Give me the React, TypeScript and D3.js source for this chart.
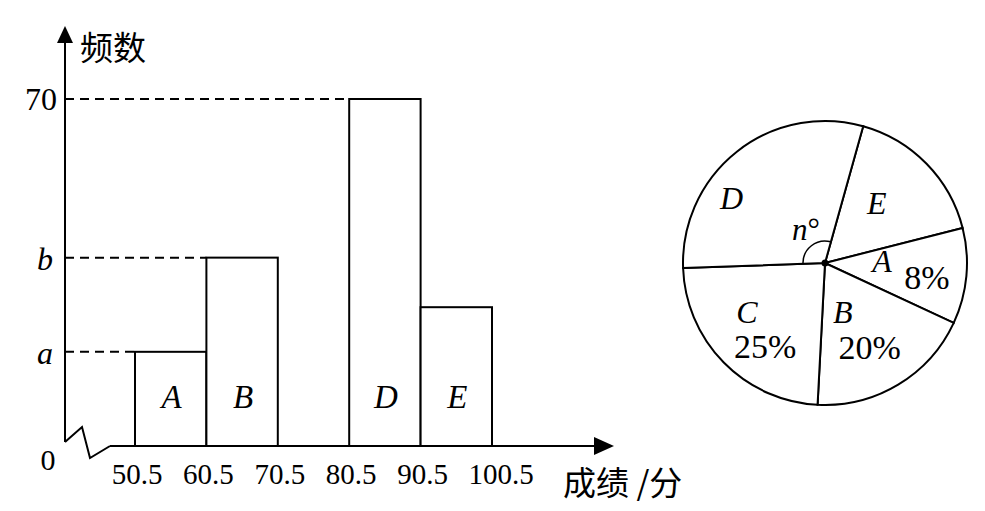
import { useMemo } from "react";
import * as d3 from "d3";

// histogram data (bars are drawn as in the picture, not to scale)
const binStarts = [50.5, 60.5, 70.5, 80.5, 90.5];
const binWidth = 10;
const groups = ["A", "B", "C", "D", "E"];
const freqs = [19, 38, 0, 70, 28];
const xTicks = [50.5, 60.5, 70.5, 80.5, 90.5, 100.5];
const yTickValues = [19, 38, 70];
const yTickLabels = ["a", "b", "70"];

// pie, clockwise from the D/E border
const pieGroups = ["E", "A", "B", "C", "D"];
const pieShares = [16.7, 10.9, 18.9, 23.6, 29.9];
const piePercents = ["", "8%", "20%", "25%", ""];
const pieStartDeg = 15.6;

const serif = "'Liberation Serif', 'Times New Roman', serif";
const cjk = "'Noto Sans CJK SC', sans-serif";

export default function App() {
  const W = 985;
  const H = 511;

  const x = d3.scaleLinear().domain([50.5, 100.5]).range([135, 492]);
  const y = d3.scaleLinear().domain([0, 70]).range([446, 99]);
  const axisX = 65;
  const x0 = y(0);

  // pie geometry
  const cx = 825;
  const cy = 263;
  const R = 142;
  const rad = (deg: number) => (deg * Math.PI) / 180;
  const slices = useMemo(
    () =>
      d3
        .pie<number>()
        .sort(null)
        .startAngle(rad(pieStartDeg))
        .endAngle(rad(pieStartDeg + 360))(pieShares),
    []
  );
  const arc = d3.arc<any>().innerRadius(0).outerRadius(R);

  // polar label spots (angle from 12 o'clock, clockwise; radius)
  const letterSpot: Record<string, [number, number]> = {
    E: [41, 79],
    A: [88, 57],
    B: [160, 52],
    C: [238, 92],
    D: [305, 114],
  };
  const pctSpot: Record<string, [number, number]> = {
    A: [98, 103],
    B: [152, 95],
    C: [216, 102],
  };
  const polar = (deg: number, r: number): [number, number] => [
    cx + r * Math.sin(rad(deg)),
    cy - r * Math.cos(rad(deg)),
  ];

  // n° angle mark between the D/C border and the D/E border
  const dSlice = slices[4];
  const angleMark = d3.path();
  angleMark.arc(cx, cy, 22, dSlice.startAngle - Math.PI / 2, dSlice.endAngle - Math.PI / 2, false);

  const dash = "9,6";

  return (
    <svg
      width={W}
      height={H}
      style={{ position: "absolute", left: 0, top: 0, background: "#fff" }}
    >
      {/* dashed guide lines */}
      {yTickValues.map((v, i) => {
        const idx = freqs.indexOf(v);
        return (
          <line
            key={"g" + i}
            x1={axisX}
            x2={x(binStarts[idx])}
            y1={y(v)}
            y2={y(v)}
            stroke="#000"
            strokeWidth={2}
            strokeDasharray={dash}
          />
        );
      })}

      {/* bars */}
      {freqs.map((f, i) =>
        f > 0 ? (
          <rect
            key={"b" + i}
            x={x(binStarts[i])}
            y={y(f)}
            width={x(binStarts[i] + binWidth) - x(binStarts[i])}
            height={x0 - y(f)}
            fill="#fff"
            stroke="#000"
            strokeWidth={2}
          />
        ) : null
      )}
      {freqs.map((f, i) =>
        f > 0 ? (
          <text
            key={"bl" + i}
            x={x(binStarts[i] + binWidth / 2) + 1}
            y={408}
            textAnchor="middle"
            fontFamily={serif}
            fontStyle="italic"
            fontSize={33}
          >
            {groups[i]}
          </text>
        ) : null
      )}

      {/* y axis */}
      <line x1={axisX} x2={axisX} y1={x0 - 4} y2={40} stroke="#000" strokeWidth={2} />
      <path d={`M${axisX},26 L${axisX - 8},43 L${axisX + 8},43 Z`} fill="#000" />
      {/* break mark */}
      <polyline
        points={`${axisX},${x0 - 4} ${axisX + 17},${x0 - 19} ${axisX + 25},${x0 + 12} ${axisX + 45},${x0}`}
        fill="none"
        stroke="#000"
        strokeWidth={2}
      />
      {/* x axis */}
      <line x1={axisX + 45} x2={598} y1={x0} y2={x0} stroke="#000" strokeWidth={2} />
      <path d={`M614,${x0} L594,${x0 - 9} L594,${x0 + 9} Z`} fill="#000" />

      {/* y tick labels */}
      {yTickValues.map((v, i) => (
        <text
          key={"yl" + i}
          x={yTickLabels[i] === "70" ? 57 : 53}
          y={y(v) + (yTickLabels[i] === "70" ? 11 : 12)}
          textAnchor="end"
          fontFamily={serif}
          fontStyle={yTickLabels[i] === "70" ? "normal" : "italic"}
          fontSize={32}
        >
          {yTickLabels[i]}
        </text>
      ))}
      <text x={48} y={470} textAnchor="middle" fontFamily={serif} fontSize={30}>
        0
      </text>
      <text x={80} y={60} fontFamily={cjk} fontSize={33}>
        频数
      </text>

      {/* x tick labels */}
      {xTicks.map((t) => (
        <text
          key={"xt" + t}
          x={x(t) + (t >= 100 ? 9 : 2)}
          y={484}
          textAnchor="middle"
          fontFamily={serif}
          fontSize={29}
        >
          {t.toFixed(1)}
        </text>
      ))}
      <text x={563} y={495} fontFamily={cjk} fontSize={33}>
        成绩 /分
      </text>

      {/* pie */}
      <g transform={`translate(${cx},${cy})`}>
        {slices.map((s, i) => (
          <path key={"s" + i} d={arc(s) || ""} fill="#fff" stroke="#000" strokeWidth={2} />
        ))}
      </g>
      <path d={angleMark.toString()} fill="none" stroke="#000" strokeWidth={1.5} />
      <circle cx={cx} cy={cy} r={3.5} fill="#000" />
      {pieGroups.map((g, i) => {
        const [lx, ly] = polar(letterSpot[g][0], letterSpot[g][1]);
        return (
          <text
            key={"pl" + i}
            x={lx}
            y={ly + 11}
            textAnchor="middle"
            fontFamily={serif}
            fontStyle="italic"
            fontSize={32}
          >
            {g}
          </text>
        );
      })}
      {pieGroups.map((g, i) => {
        if (!piePercents[i]) return null;
        const [lx, ly] = polar(pctSpot[g][0], pctSpot[g][1]);
        return (
          <text
            key={"pp" + i}
            x={lx}
            y={ly + 12}
            textAnchor="middle"
            fontFamily={serif}
            fontSize={34}
          >
            {piePercents[i]}
          </text>
        );
      })}
      <text x={806} y={240} textAnchor="middle" fontFamily={serif} fontSize={31}>
        <tspan fontStyle="italic">n</tspan>°
      </text>
    </svg>
  );
}
